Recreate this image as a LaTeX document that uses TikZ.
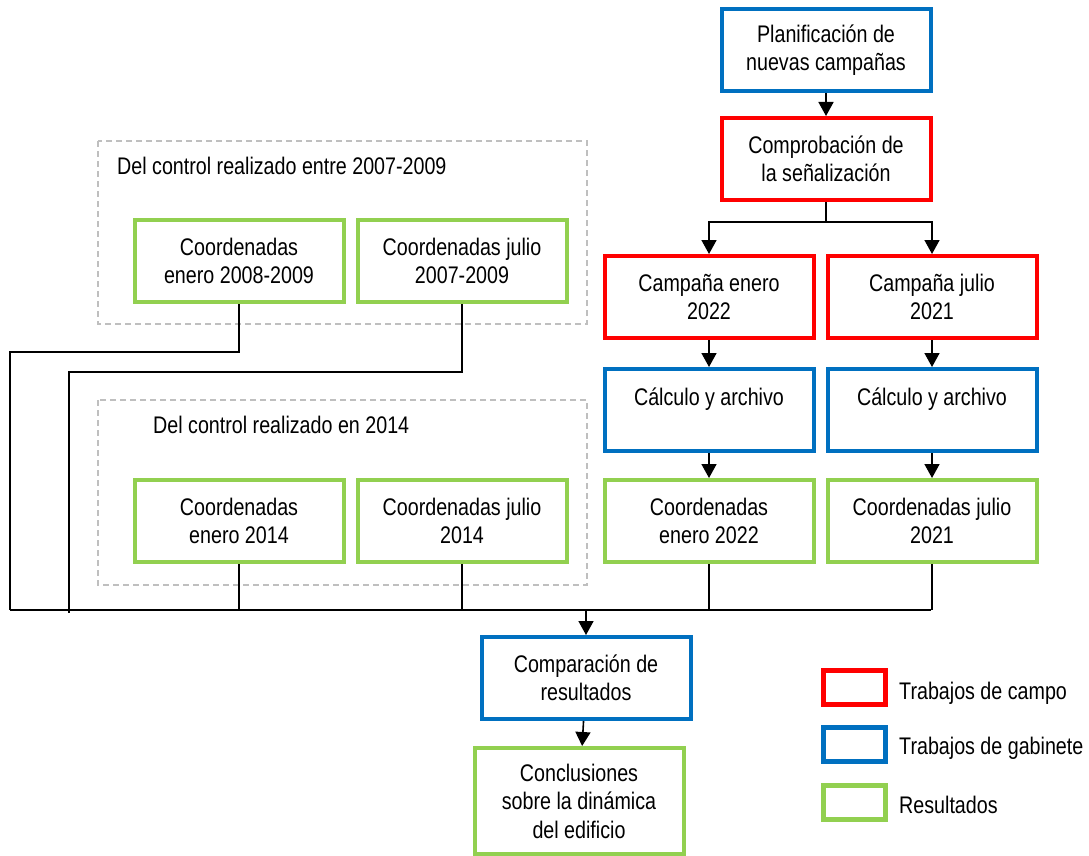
\documentclass[tikz,border=0pt]{standalone}
\usepackage{fontspec}
\setmainfont{Liberation Sans}[FakeStretch=0.82]
\usetikzlibrary{arrows.meta}
\definecolor{campo}{HTML}{FF0000}
\definecolor{gabinete}{HTML}{0070C0}
\definecolor{resultado}{HTML}{92D050}
\definecolor{gris}{HTML}{BFBFBF}

\begin{document}
\begin{tikzpicture}[x=1pt, y=-1pt,
		txt/.style={font=\fontsize{24}{28.5}\selectfont},
		box/.style={txt, draw, line width=4pt, minimum width=209pt, minimum height=82pt, align=center, inner sep=0pt},
		campo/.style={box, draw=campo},
		gabinete/.style={box, draw=gabinete},
		resultado/.style={box, draw=resultado},
		grupo/.style={draw=gris, line width=1.5pt, dash pattern=on 6pt off 4pt},
		linea/.style={line width=1.6pt},
		flecha/.style={linea, -{Triangle[width=15pt,length=14pt]}},
		leyenda/.style={draw, line width=5pt, minimum width=62pt, minimum height=34pt, inner sep=0pt}]
		\useasboundingbox (0,0) rectangle (1089,856);
		
		% campañas nuevas
		\node[gabinete] (plan) at (826,50) {Planificación de\\nuevas campañas};
		\node[campo] (comprob) at (826,159) {Comprobación de\\la señalización};
		\node[campo] (cenero) at (709,297) {Campaña enero\\2022};
		\node[campo] (cjulio) at (932,297) {Campaña julio\\2021};
		\node[gabinete] (calcenero) at (709,410) {Cálculo y archivo\\[-10pt]\strut};
		\node[gabinete] (calcjulio) at (932,410) {Cálculo y archivo\\[-10pt]\strut};
		\node[resultado] (coorenero) at (709,521) {Coordenadas\\enero 2022};
		\node[resultado] (coorjulio) at (932,521) {Coordenadas julio\\2021};
		
		% controles anteriores
		\draw[grupo] (98,141) rectangle (587,324);
		\node[txt, anchor=west, inner sep=0pt] (tit0709) at (117,166) {Del control realizado entre 2007-2009};
		\node[resultado] (c0809) at (239,261) {Coordenadas\\enero 2008-2009};
		\node[resultado] (c0709) at (462,261) {Coordenadas julio\\2007-2009};
		\draw[grupo] (98,400) rectangle (587,585);
		\node[txt, anchor=west, inner sep=0pt] (tit14) at (153,425) {Del control realizado en 2014};
		\node[resultado] (c14e) at (239,521) {Coordenadas\\enero 2014};
		\node[resultado] (c14j) at (462,521) {Coordenadas julio\\2014};
		
		% comparación
		\node[gabinete] (compar) at (586,678) {Comparación de\\resultados};
		\node[resultado, minimum height=106pt] (concl) at (579,801) {Conclusiones\\sobre la dinámica\\del edificio};
		
		% leyenda
		\node[leyenda, draw=campo] (lcampo) at (854,687) {};
		\node[leyenda, draw=gabinete] (lgab) at (854,744) {};
		\node[leyenda, draw=resultado] (lres) at (854,802) {};
		\node[txt, anchor=west, inner sep=0pt] at (899,693) {Trabajos de campo};
		\node[txt, anchor=west, inner sep=0pt] at (899,748) {Trabajos de gabinete};
		\node[txt, anchor=west, inner sep=0pt] at (899,805) {Resultados};
		
		% conectores
		\draw[flecha] (plan) -- (comprob);
		\draw[linea] (comprob.south) -- ++(0,20) coordinate (split);
		\draw[flecha] (split) -| (cenero.north);
		\draw[flecha] (split) -| (cjulio.north);
		\draw[flecha] (cenero) -- (calcenero);
		\draw[flecha] (cjulio) -- (calcjulio);
		\draw[flecha] (calcenero) -- (coorenero);
		\draw[flecha] (calcjulio) -- (coorjulio);
		
		\coordinate (busW) at (10,610);
		\coordinate (busE) at (931,610);
		\coordinate (busW2) at (69,613);
		\draw[linea] (busW) -- (busE);
		\draw[linea] (c0809.south) -- ++(0,48) -| (busW);
		\draw[linea] (c0709.south) -- ++(0,68) -| (busW2);
		\draw[linea] (c14e.south) -- (c14e.south |- busW);
		\draw[linea] (c14j.south) -- (c14j.south |- busW);
		\draw[linea] (coorenero.south) -- (coorenero.south |- busW);
		\draw[linea] (coorjulio.south) -- (coorjulio.south |- busW);
		\draw[flecha] (busW -| compar) -- (compar.north);
		\draw[flecha] (compar) -- (concl);
	\end{tikzpicture}
\end{document}
